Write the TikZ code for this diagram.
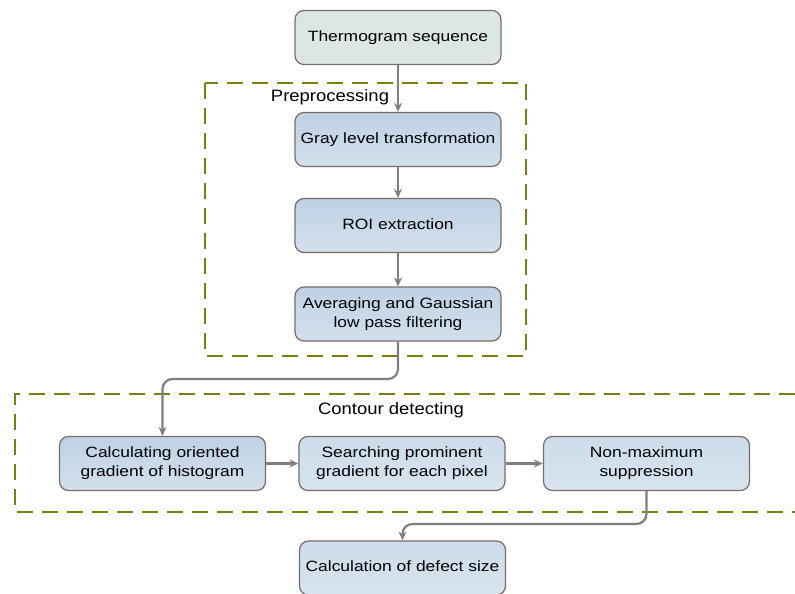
\documentclass[tikz,border=0pt]{standalone}
\usepackage{fontspec}
\setmainfont{Liberation Sans}
\usepackage{tikz}
\usetikzlibrary{arrows.meta}

\definecolor{edgebrown}{HTML}{7A6B68}
\definecolor{arrowgray}{HTML}{7F7F7F}
\definecolor{olive}{HTML}{7D7D14}
\definecolor{startfill}{HTML}{DCE7E2}
\definecolor{bluetop}{HTML}{BED2E5}
\definecolor{bluebot}{HTML}{D3E0EC}
\definecolor{paletop}{HTML}{CCDCEA}
\definecolor{palebot}{HTML}{D8E4EF}

\newcommand{\boxfont}{\fontsize{14.9}{19}\selectfont\addfontfeature{FakeStretch=1.17}}
\newcommand{\groupfont}{\fontsize{16.5}{20}\selectfont\addfontfeature{FakeStretch=1.12}}

\begin{document}
\begin{tikzpicture}[x=1pt,y=-1pt]
\tikzstyle{every node}+=[font=\boxfont]
\tikzstyle{stepbox}=[draw=edgebrown, line width=1.2pt, rounded corners=9pt,
  minimum width=206pt, minimum height=54pt, align=center, inner sep=0pt,
  execute at begin node={\vphantom{Ag}}]
\tikzstyle{bluebox}=[stepbox, top color=bluetop, bottom color=bluebot]
\tikzstyle{palebox}=[stepbox, top color=paletop, bottom color=palebot]
\tikzstyle{flow}=[draw=arrowgray, line width=2.2pt, rounded corners=10pt,
  -{Stealth[length=9pt,width=8pt]}]
\tikzstyle{group}=[draw=olive, line width=2pt, dash pattern=on 16pt off 9pt]
\tikzstyle{grouplabel}=[font=\groupfont]
\useasboundingbox (0,0) rectangle (795,594);

% stage groups
\draw [group] (205,83) rectangle (526,356);
\draw [group] (795,394) -- (15,394) -- (15,512) -- (795,512);
\node [grouplabel] (prelabel) at (330,97) {Preprocessing};
\node [grouplabel] (contlabel) at (391,410) {Contour detecting};

% steps
\node [stepbox, fill=startfill] (seq) at (398,37.5) {Thermogram sequence};
\node [bluebox] (gray) at (398,139.5) {Gray level transformation};
\node [bluebox] (roi) at (398,225.5) {ROI extraction};
\node [bluebox] (avg) at (398,314) {Averaging and Gaussian\\low pass filtering};
\node [bluebox] (hog) at (162.5,463.5) {Calculating oriented\\gradient of histogram};
\node [palebox] (search) at (402,463.5) {Searching prominent\\gradient for each pixel};
\node [palebox] (nms) at (646.5,463.5) {Non-maximum\\suppression};
\node [palebox] (size) at (402.5,568) {Calculation of defect size};

% connectors
\draw [flow] (seq) -- (gray);
\draw [flow] (gray) -- (roi);
\draw [flow] (roi) -- (avg);
\draw [flow] (avg.south) |- (230,379) -| (hog.north);
\draw [flow] (hog) -- (search);
\draw [flow] (search) -- (nms);
\draw [flow] (nms.south) |- (500,524) -| (size.north);
\end{tikzpicture}
\end{document}
